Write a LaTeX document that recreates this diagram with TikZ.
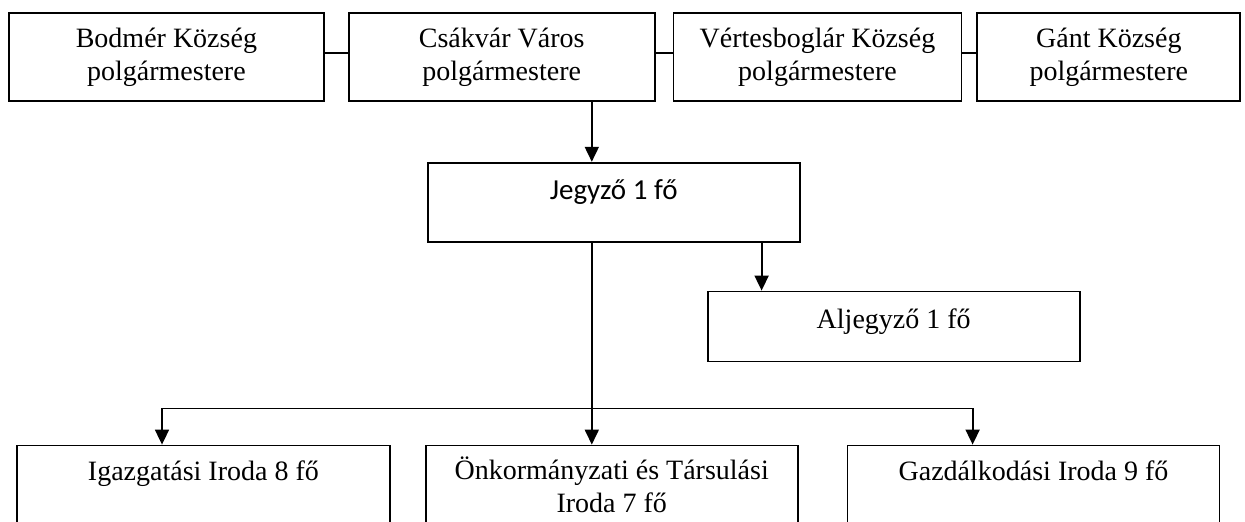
\documentclass[tikz,border=0pt]{standalone}
\usepackage{fontspec}
\setmainfont{Liberation Serif}
\newfontfamily\calibri{Carlito}
\usepackage{tikz}
\usetikzlibrary{arrows.meta,positioning,calc}
\tikzset{
    doboz/.style={
        rectangle,
        draw,
        line width=0.9pt,
        align=center,
        inner sep=0pt,
        minimum width=186pt,
        minimum height=39.5pt
    },
    polgarmester/.style={doboz, minimum height=44pt},
    iroda/.style={doboz, text height=10pt, text depth=14.5pt},
    nyil/.style={-{Triangle[length=7.5pt,width=7pt]}, line width=0.9pt},
    vonal/.style={line width=0.9pt}
}

\begin{document}
\begin{tikzpicture}[
        node distance=30pt and 11.5pt,
        every node/.style={font=\fontsize{14}{16.5}\selectfont}
    ]
        \useasboundingbox (0,0) rectangle (622.5pt,-261pt);
        \node[polgarmester, anchor=north west, minimum width=157.5pt] (bodmer) at (4pt,-6pt) {Bodmér Község\\polgármestere};
        \node[polgarmester, right=11.5pt of bodmer, minimum width=153pt] (csakvar) {Csákvár Város\\polgármestere};
        \node[polgarmester, right=8.5pt of csakvar, minimum width=144pt] (vertes) {Vértesboglár Község\\polgármestere};
        \node[polgarmester, right=7pt of vertes, minimum width=131.5pt] (gant) {Gánt Község\\polgármestere};

        \node[doboz, below right=30pt and 39.5pt of csakvar.south west, text height=10pt, text depth=12.5pt, font=\calibri\fontsize{14.5}{17}\selectfont] (jegyzo) {Jegyző 1 fő};
        \node[doboz, below right=24pt and 140pt of jegyzo.south west, minimum height=35pt, text height=10pt, text depth=8pt] (aljegyzo) {Aljegyző 1 fő};

        \node[doboz, below right=101pt and -1pt of jegyzo.south west] (onk) {Önkormányzati és Társulási\\Iroda 7 fő};
        \node[iroda, left=17pt of onk, minimum width=186.5pt] (igazg) {Igazgatási Iroda 8 fő};
        \node[iroda, right=24pt of onk] (gazd) {Gazdálkodási Iroda 9 fő};

        \coordinate (tengely) at ([xshift=82.5pt]jegyzo.south west);
        \coordinate (aljag) at ([xshift=-19.5pt]jegyzo.south east);
        \coordinate (bal) at ([xshift=73pt,yshift=18pt]igazg.north west);
        \coordinate (jobb) at ([xshift=63pt,yshift=18pt]gazd.north west);

        \draw[vonal] ([yshift=2pt]bodmer.east) -- ([yshift=2pt]csakvar.west);
        \draw[vonal] ([yshift=2pt]csakvar.east) -- ([yshift=2pt]vertes.west);
        \draw[vonal] ([yshift=2pt]vertes.east) -- ([yshift=2pt]gant.west);

        \draw[nyil] (csakvar.south -| tengely) -- (jegyzo.north -| tengely);
        \draw[nyil] (aljag) -- (aljag |- aljegyzo.north);
        \draw[nyil] (tengely) -- (onk.north -| tengely);
        \draw[nyil] (tengely |- bal) -- (bal) -- (bal |- igazg.north);
        \draw[nyil] (tengely |- jobb) -- (jobb) -- (jobb |- gazd.north);
    \end{tikzpicture}
\end{document}
